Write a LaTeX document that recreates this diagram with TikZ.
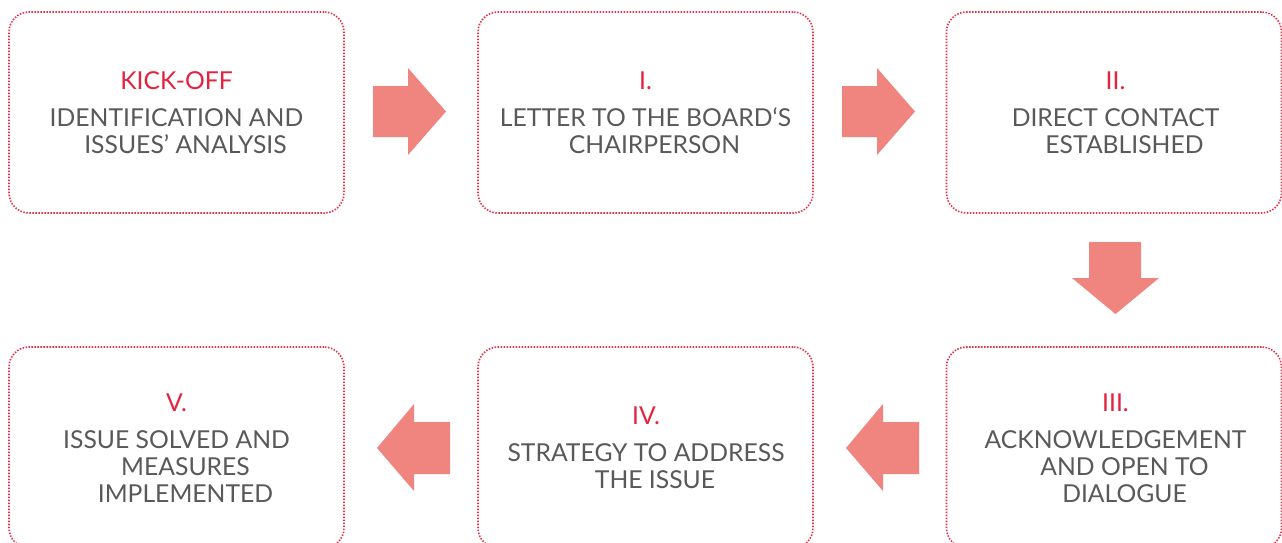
\documentclass[tikz,border=0pt]{standalone}
\usepackage{fontspec}
\setmainfont{Lato}
\definecolor{boxred}{HTML}{E8304A}
\definecolor{titlered}{HTML}{E4233F}
\definecolor{txtgray}{HTML}{595959}
\definecolor{arrowred}{HTML}{F08580}
\tikzset{
  stepbox/.style={draw=boxred, line width=1.6pt, dash pattern=on 1.5pt off 1.5pt,
    rounded corners=20pt, minimum width=335pt, minimum height=201pt, inner sep=0pt},
  ttl/.style={anchor=base, text=titlered, font=\fontsize{24.7}{27}\selectfont, inner sep=0pt},
  bdy/.style={anchor=base, text=txtgray, font=\fontsize{24.7}{27}\selectfont, inner sep=0pt},
  blockarrow/.style={fill=arrowred, draw=none}
}
\newcommand{\ind}{\hspace*{18pt}}
\begin{document}
\begin{tikzpicture}[x=1pt,y=-1pt]
\useasboundingbox (0,0) rectangle (1282,542);
\clip (0,0) rectangle (1282,542);
\fill[white] (0,0) rectangle (1282,542);
% boxes
\node[stepbox] (b1) at (176.5,112.5) {};
\node[stepbox] (b2) at (645.5,112.5) {};
\node[stepbox] (b3) at (1114,112.5) {};
\node[stepbox] (b4) at (1114,447.5) {};
\node[stepbox] (b5) at (645.5,447.5) {};
\node[stepbox] (b6) at (176.5,447.5) {};
% texts box 1
\node[ttl] (t1) at (176.5,89) {KICK-OFF};
\node[bdy] (t1a) at (176.5,126) {IDENTIFICATION AND};
\node[bdy] (t1b) at (176.5,153) {\ind ISSUES’ ANALYSIS};
% box 2
\node[ttl] (t2) at (645.5,89) {I.};
\node[bdy] (t2a) at (645.5,126) {LETTER TO THE BOARD‘S};
\node[bdy] (t2b) at (645.5,153) {\ind CHAIRPERSON};
% box 3
\node[ttl] (t3) at (1115.5,89) {II.};
\node[bdy] (t3a) at (1115.5,126) {DIRECT CONTACT};
\node[bdy] (t3b) at (1115.5,153) {\ind ESTABLISHED};
% box 4 (III)
\node[ttl] (t4) at (1115.5,411) {III.};
\node[bdy] (t4a) at (1115.5,448) {ACKNOWLEDGEMENT};
\node[bdy] (t4b) at (1115.5,475) {\ind AND OPEN TO};
\node[bdy] (t4c) at (1115.5,502) {\ind DIALOGUE};
% box 5 (IV)
\node[ttl] (t5) at (646,424) {IV.};
\node[bdy] (t5a) at (646,461) {STRATEGY TO ADDRESS};
\node[bdy] (t5b) at (646,488) {\ind THE ISSUE};
% box 6 (V)
\node[ttl] (t6) at (176.5,411) {V.};
\node[bdy] (t6a) at (176.5,448) {ISSUE SOLVED AND};
\node[bdy] (t6b) at (176.5,475) {\ind MEASURES};
\node[bdy] (t6c) at (176.5,502) {\ind IMPLEMENTED};
% block arrows
\fill[blockarrow] (373,86) -- (408,86) -- (408,68) -- (446,111.5) -- (408,155) -- (408,137) -- (373,137) -- cycle;
\fill[blockarrow] (842,86) -- (877,86) -- (877,68) -- (915,111.5) -- (877,155) -- (877,137) -- (842,137) -- cycle;
\fill[blockarrow] (1089,242) -- (1141,242) -- (1141,278) -- (1159,278) -- (1115.5,314) -- (1072,278) -- (1089,278) -- cycle;
\fill[blockarrow] (919,422) -- (883,422) -- (883,404) -- (846,448) -- (883,491) -- (883,474) -- (919,474) -- cycle;
\fill[blockarrow] (450,422) -- (414,422) -- (414,404) -- (377,448) -- (414,491) -- (414,474) -- (450,474) -- cycle;
\end{tikzpicture}
\end{document}
